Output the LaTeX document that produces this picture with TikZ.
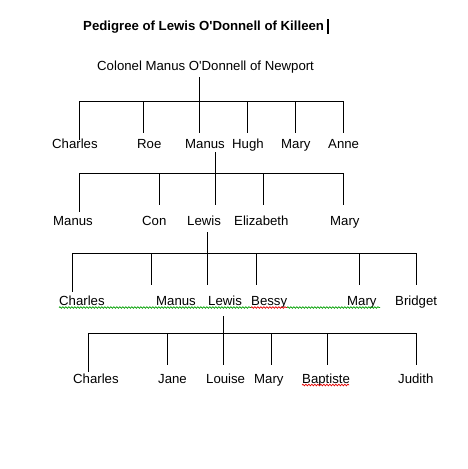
\documentclass[tikz,border=0pt]{standalone}
\usepackage{fontspec}
\setmainfont{Liberation Sans}
\usetikzlibrary{decorations.pathmorphing}
\definecolor{spellgreen}{RGB}{0,160,0}
\definecolor{spellred}{RGB}{230,0,0}
\begin{document}
\begin{tikzpicture}[x=1pt,y=-1pt,
  lbl/.style={inner sep=0pt, anchor=base west, font=\fontsize{13.2}{15}\selectfont},
  ttl/.style={inner sep=0pt, anchor=base west, font=\fontsize{13.2}{15}\selectfont\bfseries},
  conn/.style={draw=black, line width=1pt},
  squig/.style={decorate, decoration={snake, amplitude=0.8pt, segment length=3pt}, line width=0.7pt}]
\useasboundingbox (0,0) rectangle (467,469);
\fill[white] (0,0) rectangle (467,469);

% title and cursor
\node[ttl] (title) at (83,30) {Pedigree of Lewis O\textquotesingle Donnell of Killeen};
\coordinate (curTop) at (328,19);
\coordinate (curBot) at (328,34);
\draw[line width=1.5pt] (curTop) -- (curBot);

% generation 0
\node[lbl] (root) at (97,70) {Colonel Manus O\textquotesingle Donnell of Newport};

% generation 1
\node[lbl] (g1a) at (52,148) {Charles};
\node[lbl] (g1b) at (137,148) {Roe};
\node[lbl] (g1c) at (185,148) {Manus};
\node[lbl] (g1d) at (232,148) {Hugh};
\node[lbl] (g1e) at (281,148) {Mary};
\node[lbl] (g1f) at (328,148) {Anne};

\coordinate (s0top) at (199,77);
\coordinate (s0bar) at (199,101);
\coordinate (b1L) at (79,101);
\coordinate (b1R) at (343,101);
\draw[conn] (s0top) -- (s0bar);
\draw[conn] (b1L) -- (b1R);
\coordinate (d1a) at (79,140);
\coordinate (d1b) at (143,133);
\coordinate (d1c) at (199,133);
\coordinate (d1d) at (247,133);
\coordinate (d1e) at (295,133);
\coordinate (d1f) at (343,133);
\foreach \d in {d1a,d1b,d1c,d1d,d1e,d1f}{\draw[conn] (\d |- b1L) -- (\d);}

% generation 2
\node[lbl] (g2a) at (53,225) {Manus};
\node[lbl] (g2b) at (142,225) {Con};
\node[lbl] (g2c) at (187,225) {Lewis};
\node[lbl] (g2d) at (234,225) {Elizabeth};
\node[lbl] (g2e) at (330,225) {Mary};

\coordinate (s1top) at (215,152);
\coordinate (s1bar) at (215,173);
\coordinate (b2L) at (79,173);
\coordinate (b2R) at (343,173);
\draw[conn] (s1top) -- (s1bar);
\draw[conn] (b2L) -- (b2R);
\coordinate (d2a) at (79,212);
\coordinate (d2b) at (159,205);
\coordinate (d2c) at (215,205);
\coordinate (d2d) at (263,205);
\coordinate (d2e) at (343,205);
\foreach \d in {d2a,d2b,d2c,d2d,d2e}{\draw[conn] (\d |- b2L) -- (\d);}

% generation 3
\node[lbl] (g3a) at (59,305) {Charles};
\node[lbl] (g3b) at (156,305) {Manus};
\node[lbl] (g3c) at (208,305) {Lewis};
\node[lbl] (g3d) at (251,305) {Bessy};
\node[lbl] (g3e) at (347,305) {Mary};
\node[lbl] (g3f) at (395,305) {Bridget};

\coordinate (s2top) at (207,232);
\coordinate (s2bar) at (207,253);
\coordinate (b3L) at (72,253);
\coordinate (b3R) at (416,253);
\draw[conn] (s2top) -- (s2bar);
\draw[conn] (b3L) -- (b3R);
\coordinate (d3a) at (72,292);
\coordinate (d3b) at (151,285);
\coordinate (d3c) at (207,285);
\coordinate (d3d) at (256,285);
\coordinate (d3e) at (359,285);
\coordinate (d3f) at (416,285);
\foreach \d in {d3a,d3b,d3c,d3d,d3e,d3f}{\draw[conn] (\d |- b3L) -- (\d);}

% spell-check underlines
\coordinate (w1) at (59,307.5);
\coordinate (w2) at (251,307.5);
\coordinate (w3) at (287,307.5);
\coordinate (w4) at (380,307.5);
\draw[squig, spellgreen] (w1) -- (w2);
\draw[squig, spellred] (w2) -- (w3);
\draw[squig, spellgreen] (w3) -- (w4);

% generation 4
\node[lbl] (g4a) at (73,383) {Charles};
\node[lbl] (g4b) at (158,383) {Jane};
\node[lbl] (g4c) at (206,383) {Louise};
\node[lbl] (g4d) at (254,383) {Mary};
\node[lbl] (g4e) at (302,383) {Baptiste};
\node[lbl] (g4f) at (398,383) {Judith};

\coordinate (s3top) at (223,316);
\coordinate (s3bar) at (223,333);
\coordinate (b4L) at (88,333);
\coordinate (b4R) at (416,333);
\draw[conn] (s3top) -- (s3bar);
\draw[conn] (b4L) -- (b4R);
\coordinate (d4a) at (88,372);
\coordinate (d4b) at (167,365);
\coordinate (d4c) at (223,365);
\coordinate (d4d) at (271,365);
\coordinate (d4e) at (327,365);
\coordinate (d4f) at (416,365);
\foreach \d in {d4a,d4b,d4c,d4d,d4e,d4f}{\draw[conn] (\d |- b4L) -- (\d);}

\coordinate (w5) at (302,385);
\coordinate (w6) at (349,385);
\draw[squig, spellred] (w5) -- (w6);
\end{tikzpicture}
\end{document}
